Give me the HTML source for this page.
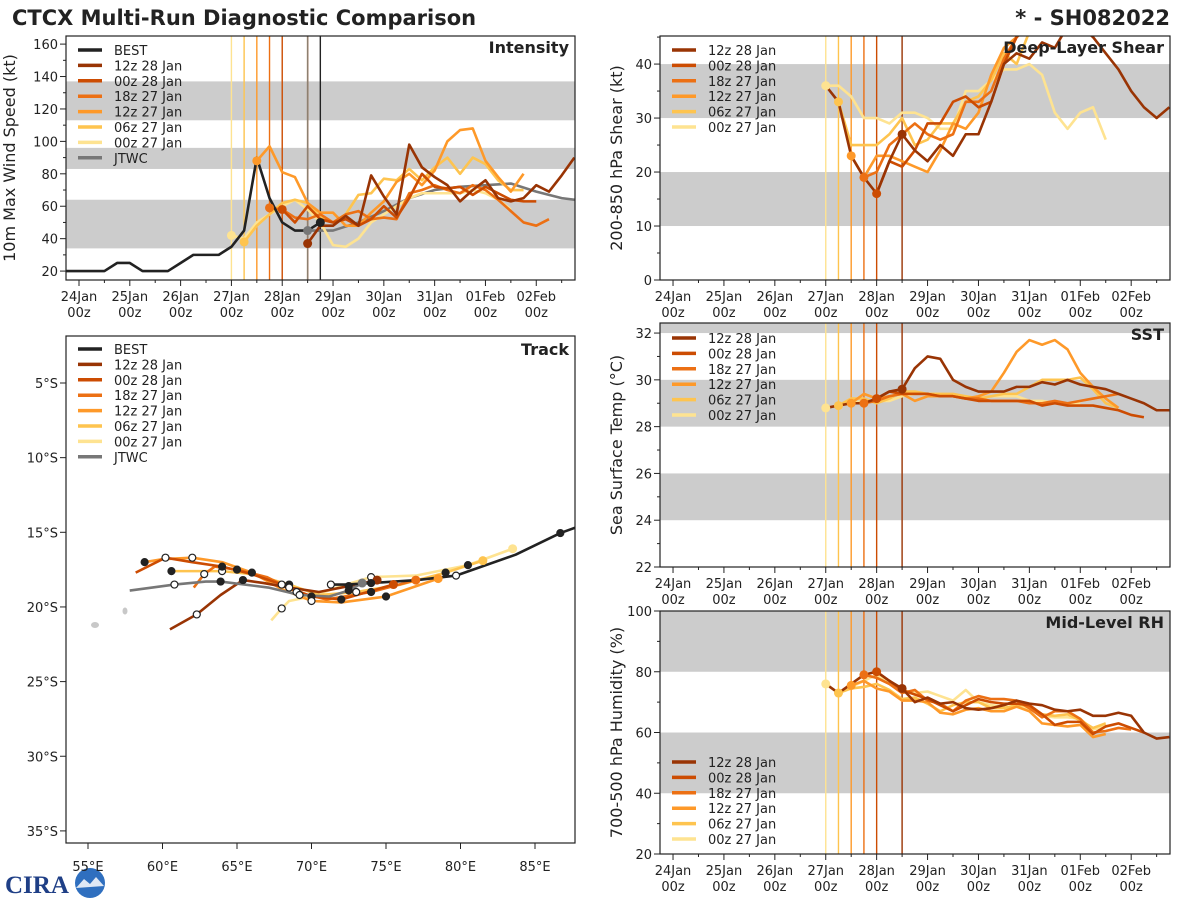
<!DOCTYPE html>
<html><head><meta charset="utf-8">
<style>
html,body{margin:0;padding:0;background:#fff;}
svg{display:block;font-family:"DejaVu Sans","Liberation Sans",sans-serif;}
</style></head>
<body>
<svg id="chart" width="1200" height="900" viewBox="0 0 1200 900" xmlns="http://www.w3.org/2000/svg">
<text x="12" y="25" font-size="21" font-weight="bold" fill="#222">CTCX Multi-Run Diagnostic Comparison</text>
<text x="1170" y="25" font-size="21" font-weight="bold" fill="#222" text-anchor="end">* - SH082022</text>
<g>
<text x="5" y="893" font-size="25" font-weight="bold" fill="#1f3f86" font-family="Liberation Serif, serif">CIRA</text>
<circle cx="90" cy="883" r="15" fill="#2f6fbf"/>
<path d="M76,888 L84,879 L90,884 L96,877 L104,886 Z" fill="#dfe8f5"/>
</g>
</svg>
<script>
// ---------- DATA ----------
const runLabels = ['12z 28 Jan','00z 28 Jan','18z 27 Jan','12z 27 Jan','06z 27 Jan','00z 27 Jan'];
const runColors = ['#993404','#cc4c02','#ec7014','#fe9929','#fec44f','#fee391'];
const runInitHours = [108,96,90,84,78,72];
const dayLabels = ['24Jan','25Jan','26Jan','27Jan','28Jan','29Jan','30Jan','31Jan','01Feb','02Feb'];

// intensity (hours from 24Jan 00z, kt)
const intBest = [[-6,20],[0,20],[6,20],[12,20],[18,25],[24,25],[30,20],[36,20],[42,20],[48,25],[54,30],[60,30],[66,30],[72,35],[78,45],[84,90],[90,65],[96,50],[102,45],[108,45],[114,50]];
const intJtwc = [[108,45],[120,45],[132,50],[144,57],[156,65],[168,70],[180,72],[192,73],[204,74],[216,69],[228,65],[240,63],[252,62],[264,60]];
const int12z28 = [[108,37],[114,48],[120,48],[126,54],[132,48],[138,79],[144,66],[150,55],[156,98],[162,84],[168,78],[174,73],[180,63],[186,70],[192,76],[198,65],[204,63],[210,65],[216,73],[222,69],[228,79],[234,90]];
const int00z28 = [[96,58],[102,50],[108,60],[114,52],[120,50],[126,52],[132,48],[138,52],[144,60],[150,53],[156,65],[162,80],[168,72],[174,71],[180,72],[186,67],[192,72],[198,68],[204,64],[210,63],[216,63]];
const int18z27 = [[90,59],[96,58],[102,53],[108,52],[114,55],[120,50],[126,55],[132,57],[138,52],[144,53],[150,52],[156,68],[162,70],[168,73],[174,70],[180,68],[186,73],[192,70],[198,64],[204,57],[210,50],[216,48],[222,52]];
const int12z27 = [[84,88],[90,97],[96,81],[102,78],[108,62],[114,56],[120,56],[126,48],[132,48],[138,56],[144,63],[150,75],[156,80],[162,73],[168,82],[174,100],[180,107],[186,108],[192,88],[198,78],[204,69],[210,80]];
const int06z27 = [[78,38],[84,48],[90,55],[96,62],[102,64],[108,62],[114,53],[120,50],[126,55],[132,67],[138,68],[144,77],[150,76],[156,83],[162,76],[168,84],[174,90],[180,80],[186,90],[192,86],[198,76],[204,70],[210,70]];
const int00z27 = [[72,42],[78,40],[84,50],[90,55],[96,60],[102,64],[108,58],[114,50],[120,36],[126,35],[132,40],[138,50],[144,55],[150,60],[156,65],[162,68],[168,68],[174,68],[180,68],[186,70],[192,68],[198,64],[204,58]];

// deep-layer shear (kt)
const shr12z28 = [[72,36],[78,33],[84,23],[90,19],[96,16],[102,22],[108,27],[114,24],[120,22],[126,25],[132,23],[138,27],[144,27],[150,33],[156,40],[162,42],[168,41],[174,44],[180,43],[186,47],[192,47],[198,45],[204,42],[210,39],[216,35],[222,32],[228,30],[234,32]];
const shr00z28 = [[96,16],[102,22],[108,21],[114,24],[120,29],[126,29],[132,33],[138,34],[144,32],[150,33],[156,40],[162,45],[168,48],[174,50]];
const shr18z27 = [[90,19],[96,20],[102,25],[108,27],[114,29],[120,27],[126,26],[132,27],[138,33],[144,33],[150,35],[156,41],[162,45],[168,47]];
const shr12z27 = [[84,23],[90,19],[96,23],[102,23],[108,22],[114,21],[120,20],[126,24],[132,29],[138,28],[144,31],[150,38],[156,43],[162,45],[168,47]];
const shr06z27 = [[78,33],[84,25],[90,25],[96,25],[102,27],[108,30],[114,25],[120,26],[126,29],[132,29],[138,33],[144,34],[150,37],[156,42],[162,40],[168,46]];
const shr00z27 = [[72,36],[78,36],[84,34],[90,30],[96,30],[102,29],[108,31],[114,31],[120,30],[126,28],[132,28],[138,35],[144,35],[150,37],[156,39],[162,39],[168,40],[174,38],[180,31],[186,28],[192,31],[198,32],[204,26]];

// SST (deg C)
const sst12z28 = [[72,28.8],[78,28.9],[84,29.0],[90,29.0],[96,29.2],[102,29.5],[108,29.6],[114,30.5],[120,31.0],[126,30.9],[132,30.0],[138,29.7],[144,29.5],[150,29.5],[156,29.5],[162,29.7],[168,29.7],[174,29.9],[180,29.8],[186,30.0],[192,29.8],[198,29.7],[204,29.6],[210,29.4],[216,29.2],[222,29.0],[228,28.7],[234,28.7]];
const sst00z28 = [[96,29.2],[102,29.5],[108,29.4],[114,29.4],[120,29.4],[126,29.3],[132,29.3],[138,29.2],[144,29.1],[150,29.1],[156,29.1],[162,29.1],[168,29.1],[174,28.9],[180,29.0],[186,28.9],[192,28.9],[198,28.9],[204,28.8],[210,28.7],[216,28.5],[222,28.4]];
const sst18z27 = [[90,29.0],[96,29.1],[102,29.3],[108,29.4],[114,29.4],[120,29.4],[126,29.3],[132,29.3],[138,29.2],[144,29.2],[150,29.1],[156,29.1],[162,29.1],[168,29.0],[174,29.0],[180,29.1],[186,29.0],[192,29.1],[198,29.2],[204,29.3],[210,29.4]];
const sst12z27 = [[84,29.0],[90,29.4],[96,29.2],[102,29.3],[108,29.4],[114,29.1],[120,29.3],[126,29.3],[132,29.3],[138,29.2],[144,29.3],[150,29.5],[156,30.3],[162,31.2],[168,31.7],[174,31.5],[180,31.7],[186,31.3],[192,30.3],[198,29.7],[204,29.2],[210,28.8]];
const sst06z27 = [[78,28.9],[84,29.2],[90,29.2],[96,29.0],[102,29.2],[108,29.5],[114,29.5],[120,29.4],[126,29.4],[132,29.4],[138,29.3],[144,29.2],[150,29.3],[156,29.4],[162,29.4],[168,29.7],[174,30.0],[180,30.0],[186,30.0],[192,30.1],[198,29.6],[204,29.0],[210,28.8]];
const sst00z27 = [[72,28.8],[78,28.9],[84,29.0],[90,29.1],[96,29.1],[102,29.1],[108,29.3],[114,29.4],[120,29.4],[126,29.4],[132,29.3],[138,29.3],[144,29.2],[150,29.3],[156,29.3],[162,29.3],[168,29.1],[174,29.1],[180,29.0],[186,29.0],[192,29.0]];

// mid-level RH (%)
const rh12z28 = [[72,76],[78,73],[84,76],[90,79],[96,80],[102,77],[108,74.5],[114,70],[120,71.5],[126,69.5],[132,70],[138,68],[144,67.5],[150,68],[156,69],[162,70.5],[168,69.5],[174,69],[180,67.5],[186,67],[192,67.5],[198,65.5],[204,65.5],[210,66.5],[216,65.5],[222,60],[228,58],[234,58.5]];
const rh00z28 = [[96,80],[102,77],[108,74],[114,72.5],[120,71],[126,69],[132,67],[138,69],[144,71],[150,70],[156,69.5],[162,69.5],[168,69],[174,66],[180,62.5],[186,63.5],[192,63.5],[198,59.5],[204,62],[210,63],[216,61.5],[222,60]];
const rh18z27 = [[90,79],[96,78],[102,76],[108,73],[114,74],[120,70.5],[126,69.5],[132,67],[138,70.5],[144,72],[150,71],[156,71],[162,70.5],[168,68],[174,65],[180,67],[186,67],[192,64.5],[198,60],[204,60.5],[210,61.5],[216,61]];
const rh12z27 = [[84,75.5],[90,77],[96,74.5],[102,73.5],[108,70.5],[114,70.5],[120,70],[126,66.5],[132,66],[138,67.5],[144,68],[150,67],[156,67],[162,68.5],[168,67],[174,63],[180,62.5],[186,62],[192,62.5],[198,58.5],[204,59.5]];
const rh06z27 = [[78,73],[84,74.5],[90,75],[96,76],[102,74],[108,71],[114,71.5],[120,69.5],[126,67],[132,69],[138,70],[144,70],[150,68],[156,68],[162,69],[168,69],[174,66],[180,65.5],[186,66],[192,64],[198,61.5],[204,63]];
const rh00z27 = [[72,76],[78,73],[84,75],[90,77],[96,79],[102,76],[108,74],[114,73],[120,73.5],[126,72],[132,70.5],[138,74],[144,70],[150,69],[156,68.5],[162,68.5],[168,68],[174,65.5],[180,65],[186,65],[192,64.5],[198,61],[204,62]];

// track (lon E, lat S)
const trkBest = [[88.5,14.4],[86.7,15.05],[83.7,16.5],[79.7,17.9],[77.1,18.2],[74,18.4],[72.3,18.5],[71.3,18.5]];
const trkJtwc = [[73.4,18.4],[72.5,18.9],[71.2,19.3],[69.2,19.2],[67.1,18.7],[63.9,18.3],[62.9,18.3],[60.8,18.5],[57.8,18.9]];
const trk12z28 = [[74.4,18.2],[72.5,18.6],[70.5,19.0],[68.5,18.7],[66.8,18.4],[65.4,18.2],[63.9,19.2],[62.3,20.5],[60.5,21.5]];
const trk00z28 = [[75.5,18.5],[72,19.5],[70,19.3],[68,18.5],[66,17.8],[64,17.3],[62,17.0],[60.2,16.7],[58.2,17.7]];
const trk18z27 = [[77,18.2],[74,19],[71,19.5],[69,19],[67,18],[65,17.5],[63.5,17.3],[62.8,17.8],[62.1,18.7]];
const trk12z27 = [[78.5,18.1],[75,19.3],[72,19.7],[70,19.6],[68,18.8],[66,17.7],[64,17.0],[62,16.7],[60,16.8],[58.8,17.0]];
const trk06z27 = [[81.5,16.9],[79,17.7],[76,18.5],[73,19.0],[70.5,19.2],[68.5,18.5],[66,17.8],[64,17.6],[62,17.6],[60.6,17.6]];
const trk00z27 = [[83.5,16.1],[80.5,17.2],[77,17.9],[74,18.0],[72,18.6],[70,19.3],[68.5,19.6],[68,20.1],[67.3,20.9]];

// ---------- DRAWING ----------
const NS = 'http://www.w3.org/2000/svg';
const svg = document.getElementById('chart');
function mk(tag, attrs, parent){
  const e = document.createElementNS(NS, tag);
  for (const k in attrs) e.setAttribute(k, attrs[k]);
  (parent||svg).appendChild(e);
  return e;
}
const TX0 = -6.14, TX1 = 234.3;
let clipId = 0;

function timePanel(p){
  const g = mk('g', {});
  
  
  const sx = t => p.x0 + (t - TX0) / (TX1 - TX0) * (p.x1 - p.x0);
  const sy = v => p.y1 - (v - p.vmin) / (p.vmax - p.vmin) * (p.y1 - p.y0);
  const id = 'clip' + (clipId++);
  const cp = mk('clipPath', {id:id}, g);
  mk('rect', {x:p.x0, y:p.y0, width:p.x1-p.x0, height:p.y1-p.y0}, cp);
  p.bands.forEach(b => {
    const top = Math.min(b[1], p.vmax);
    const r = mk('rect', {x:p.x0, y:sy(top), width:p.x1-p.x0, height:sy(b[0])-sy(top), fill:'#cccccc'}, g);
    
    
  });
  p.vlines.forEach(v => {
    const l = mk('line', {x1:sx(v[0]), x2:sx(v[0]), y1:p.y0, y2:p.y1, stroke:v[1], 'stroke-width':1.4}, g);
    
    
  });
  const cg = mk('g', {'clip-path':'url(#'+id+')'}, g);
  for (let i = p.series.length - 1; i >= 0; i--) {
    const s = p.series[i];
    const pl = mk('polyline', {points:s.data.map(d => sx(d[0])+','+sy(d[1])).join(' '), fill:'none', stroke:s.color, 'stroke-width':2.6, 'stroke-linejoin':'round'}, cg);
    
    
  }
  for (let i = p.series.length - 1; i >= 0; i--) {
    const s = p.series[i];
    if (!s.dot) continue;
    const d = s.data.find(q => q[0] === s.dot) || s.data[s.data.length-1];
    const c = mk('circle', {cx:sx(d[0]), cy:sy(d[1]), r:4.5, fill:s.color}, cg);
    
    
  }
  mk('rect', {x:p.x0, y:p.y0, width:p.x1-p.x0, height:p.y1-p.y0, fill:'none', stroke:'#222', 'stroke-width':1.2}, g);
  for (let h = 0; h <= 234; h += 12) {
    const major = h % 24 === 0;
    mk('line', {x1:sx(h), x2:sx(h), y1:p.y1, y2:p.y1 + (major?6:3), stroke:'#222', 'stroke-width':1}, g);
  }
  dayLabels.forEach((lab, i) => {
    const t1 = mk('text', {x:sx(i*24), y:p.y1+21, 'font-size':13, 'text-anchor':'middle', fill:'#222'}, g);
    t1.textContent = lab;
    
    
    const t2 = mk('text', {x:sx(i*24), y:p.y1+37, 'font-size':13, 'text-anchor':'middle', fill:'#222'}, g);
    t2.textContent = '00z';
    
    
  });
  const kStart = Math.ceil(p.vmin / p.minor - 1e-9);
  const kEnd = Math.floor(p.vmax / p.minor + 1e-9);
  for (let k = kStart; k <= kEnd; k++) {
    const v = Math.round(k * p.minor * 1000) / 1000;
    const r = (v - p.tickStart) / p.major;
    const major = v >= p.tickStart && Math.abs(r - Math.round(r)) < 1e-6;
    mk('line', {x1:p.x0, x2:p.x0-(major?6:3), y1:sy(v), y2:sy(v), stroke:'#222', 'stroke-width':1}, g);
    if (major) {
      const t = mk('text', {x:p.x0-8, y:sy(v)+5, 'font-size':13, 'text-anchor':'end', fill:'#222'}, g);
      t.textContent = v;
      
      
    }
  }
  const yt = mk('text', {x:0, y:0, 'font-size':16, 'text-anchor':'middle', fill:'#222', transform:'translate('+p.ytx+','+((p.y0+p.y1)/2)+') rotate(-90)'}, g);
  yt.textContent = p.ytitle;
  
  
  const pt = mk('text', {x:p.x1-6, y:p.y0+17, 'font-size':16, 'font-weight':'bold', 'text-anchor':'end', fill:'#222'}, g);
  pt.textContent = p.title;
  
  
  legend(g, p.x0 + 12, p.legendY, p.legend);
}

function legend(g, x, y, items){
  items.forEach((it, i) => {
    const yy = y + i * 15.4;
    const l = mk('line', {x1:x, x2:x+24, y1:yy, y2:yy, stroke:it[1], 'stroke-width':3.5}, g);
    
    
    const t = mk('text', {x:x+36, y:yy+5, 'font-size':13, fill:'#222'}, g);
    t.textContent = it[0];
    
    
  });
}

const runLegend = runLabels.map((l,i) => [l, runColors[i]]);
const fullLegend = [['BEST','#222222']].concat(runLegend).concat([['JTWC','#777777']]);
const runVlines = runInitHours.map((h,i) => [h, runColors[i]]);
function runSeries(arrs){ return arrs.map((a,i) => ({data:a, color:runColors[i], key:runLabels[i].replace(/ /g,'-'), dot:runInitHours[i]})); }

timePanel({name:'intensity-panel', x0:66, x1:575, y0:36, y1:280, vmin:14.5, vmax:165, tickStart:20, major:20, minor:10,
  bands:[[34,64],[83,96],[113,137]], vlines:runVlines.concat([[108,'#8c8070'],[114,'#222']]),
  series:[{data:intBest,color:'#222',key:'BEST',dot:114}].concat(runSeries([int12z28,int00z28,int18z27,int12z27,int06z27,int00z27])).concat([{data:intJtwc,color:'#777',key:'JTWC',dot:108}]),
  ytitle:'10m Max Wind Speed (kt)', ytx:15, title:'Intensity', legend:fullLegend, legendY:50});
timePanel({name:'shear-panel', x0:660, x1:1170, y0:36, y1:280, vmin:0, vmax:45.2, tickStart:0, major:10, minor:5,
  bands:[[10,20],[30,40]], vlines:runVlines,
  series:runSeries([shr12z28,shr00z28,shr18z27,shr12z27,shr06z27,shr00z27]),
  ytitle:'200-850 hPa Shear (kt)', ytx:622, title:'Deep-Layer Shear', legend:runLegend, legendY:50});
timePanel({name:'sst-panel', x0:660, x1:1170, y0:323, y1:567, vmin:22, vmax:32.43, tickStart:22, major:2, minor:1,
  bands:[[24,26],[28,30],[32,33]], vlines:runVlines,
  series:runSeries([sst12z28,sst00z28,sst18z27,sst12z27,sst06z27,sst00z27]),
  ytitle:'Sea Surface Temp (°C)', ytx:622, title:'SST', legend:runLegend, legendY:338});
timePanel({name:'rh-panel', x0:660, x1:1170, y0:611, y1:854, vmin:20, vmax:100, tickStart:20, major:20, minor:10,
  bands:[[40,60],[80,100]], vlines:runVlines,
  series:runSeries([rh12z28,rh00z28,rh18z27,rh12z27,rh06z27,rh00z27]),
  ytitle:'700-500 hPa Humidity (%)', ytx:622, title:'Mid-Level RH', legend:runLegend, legendY:762});

// ---------- TRACK PANEL ----------
(function(){
  const x0=66,x1=575,y0=336,y1=843;
  const sx = lon => 88 + (lon-55)*14.9;
  const sy = lat => 383 + (lat-5)*14.93;
  const g = mk('g', {});
  
  
  const cp = mk('clipPath', {id:'trkclip'}, g);
  mk('rect', {x:x0,y:y0,width:x1-x0,height:y1-y0}, cp);
  const cg = mk('g', {'clip-path':'url(#trkclip)'}, g);
  const isl1 = mk('ellipse', {cx:95, cy:625, rx:4, ry:3, fill:'#c8c8c8'}, cg);
  
  
  const isl2 = mk('ellipse', {cx:125, cy:611, rx:2.5, ry:3.5, fill:'#c8c8c8'}, cg);
  
  
  const tracks = [trk00z27,trk06z27,trk12z27,trk18z27,trk00z28,trk12z28];
  const tcol = runColors.slice().reverse();
  const tlab = runLabels.slice().reverse();
  const all = tracks.map((t,i)=>({d:t,c:tcol[i],k:tlab[i].replace(/ /g,'-')})).concat([{d:trkJtwc,c:'#777',k:'JTWC'},{d:trkBest,c:'#222',k:'BEST'}]);
  all.forEach(s => {
    const pl = mk('polyline', {points:s.d.map(q=>sx(q[0])+','+sy(q[1])).join(' '), fill:'none', stroke:s.c, 'stroke-width':2.6, 'stroke-linejoin':'round'}, cg);
    
    
  });
  all.forEach(s => {
    s.d.forEach((q,j) => {
      if (j === 0 && s.k !== 'BEST') {
        const c0 = mk('circle', {cx:sx(q[0]), cy:sy(q[1]), r:4.5, fill:s.c}, cg);
        
        
        return;
      }
      if (j % 2 === 0) return;
      const filled = (j % 4 === 1);
      const c = mk('circle', {cx:sx(q[0]), cy:sy(q[1]), r:3.5, fill:filled?'#222':'#fff', stroke:'#222', 'stroke-width':1.2}, cg);
      
      
    });
  });
  mk('rect', {x:x0,y:y0,width:x1-x0,height:y1-y0,fill:'none',stroke:'#222','stroke-width':1.2}, g);
  const lonTicks = [55,60,65,70,75,80,85];
  lonTicks.forEach(l => {
    mk('line', {x1:sx(l),x2:sx(l),y1:y1,y2:y1+6,stroke:'#222'}, g);
    const t = mk('text', {x:sx(l), y:y1+28, 'font-size':13, 'text-anchor':'middle', fill:'#222'}, g);
    t.textContent = l + '°E';
    
    
  });
  const latTicks = [5,10,15,20,25,30,35];
  latTicks.forEach(l => {
    mk('line', {x1:x0,x2:x0-6,y1:sy(l),y2:sy(l),stroke:'#222'}, g);
    const t = mk('text', {x:x0-8, y:sy(l)+5, 'font-size':13, 'text-anchor':'end', fill:'#222'}, g);
    t.textContent = l + '°S';
    
    
  });
  const pt = mk('text', {x:x1-6, y:y0+19, 'font-size':16, 'font-weight':'bold', 'text-anchor':'end', fill:'#222'}, g);
  pt.textContent = 'Track';
  
  
  legend(g, 78, 349, fullLegend);
})();
</script>
</body></html>
